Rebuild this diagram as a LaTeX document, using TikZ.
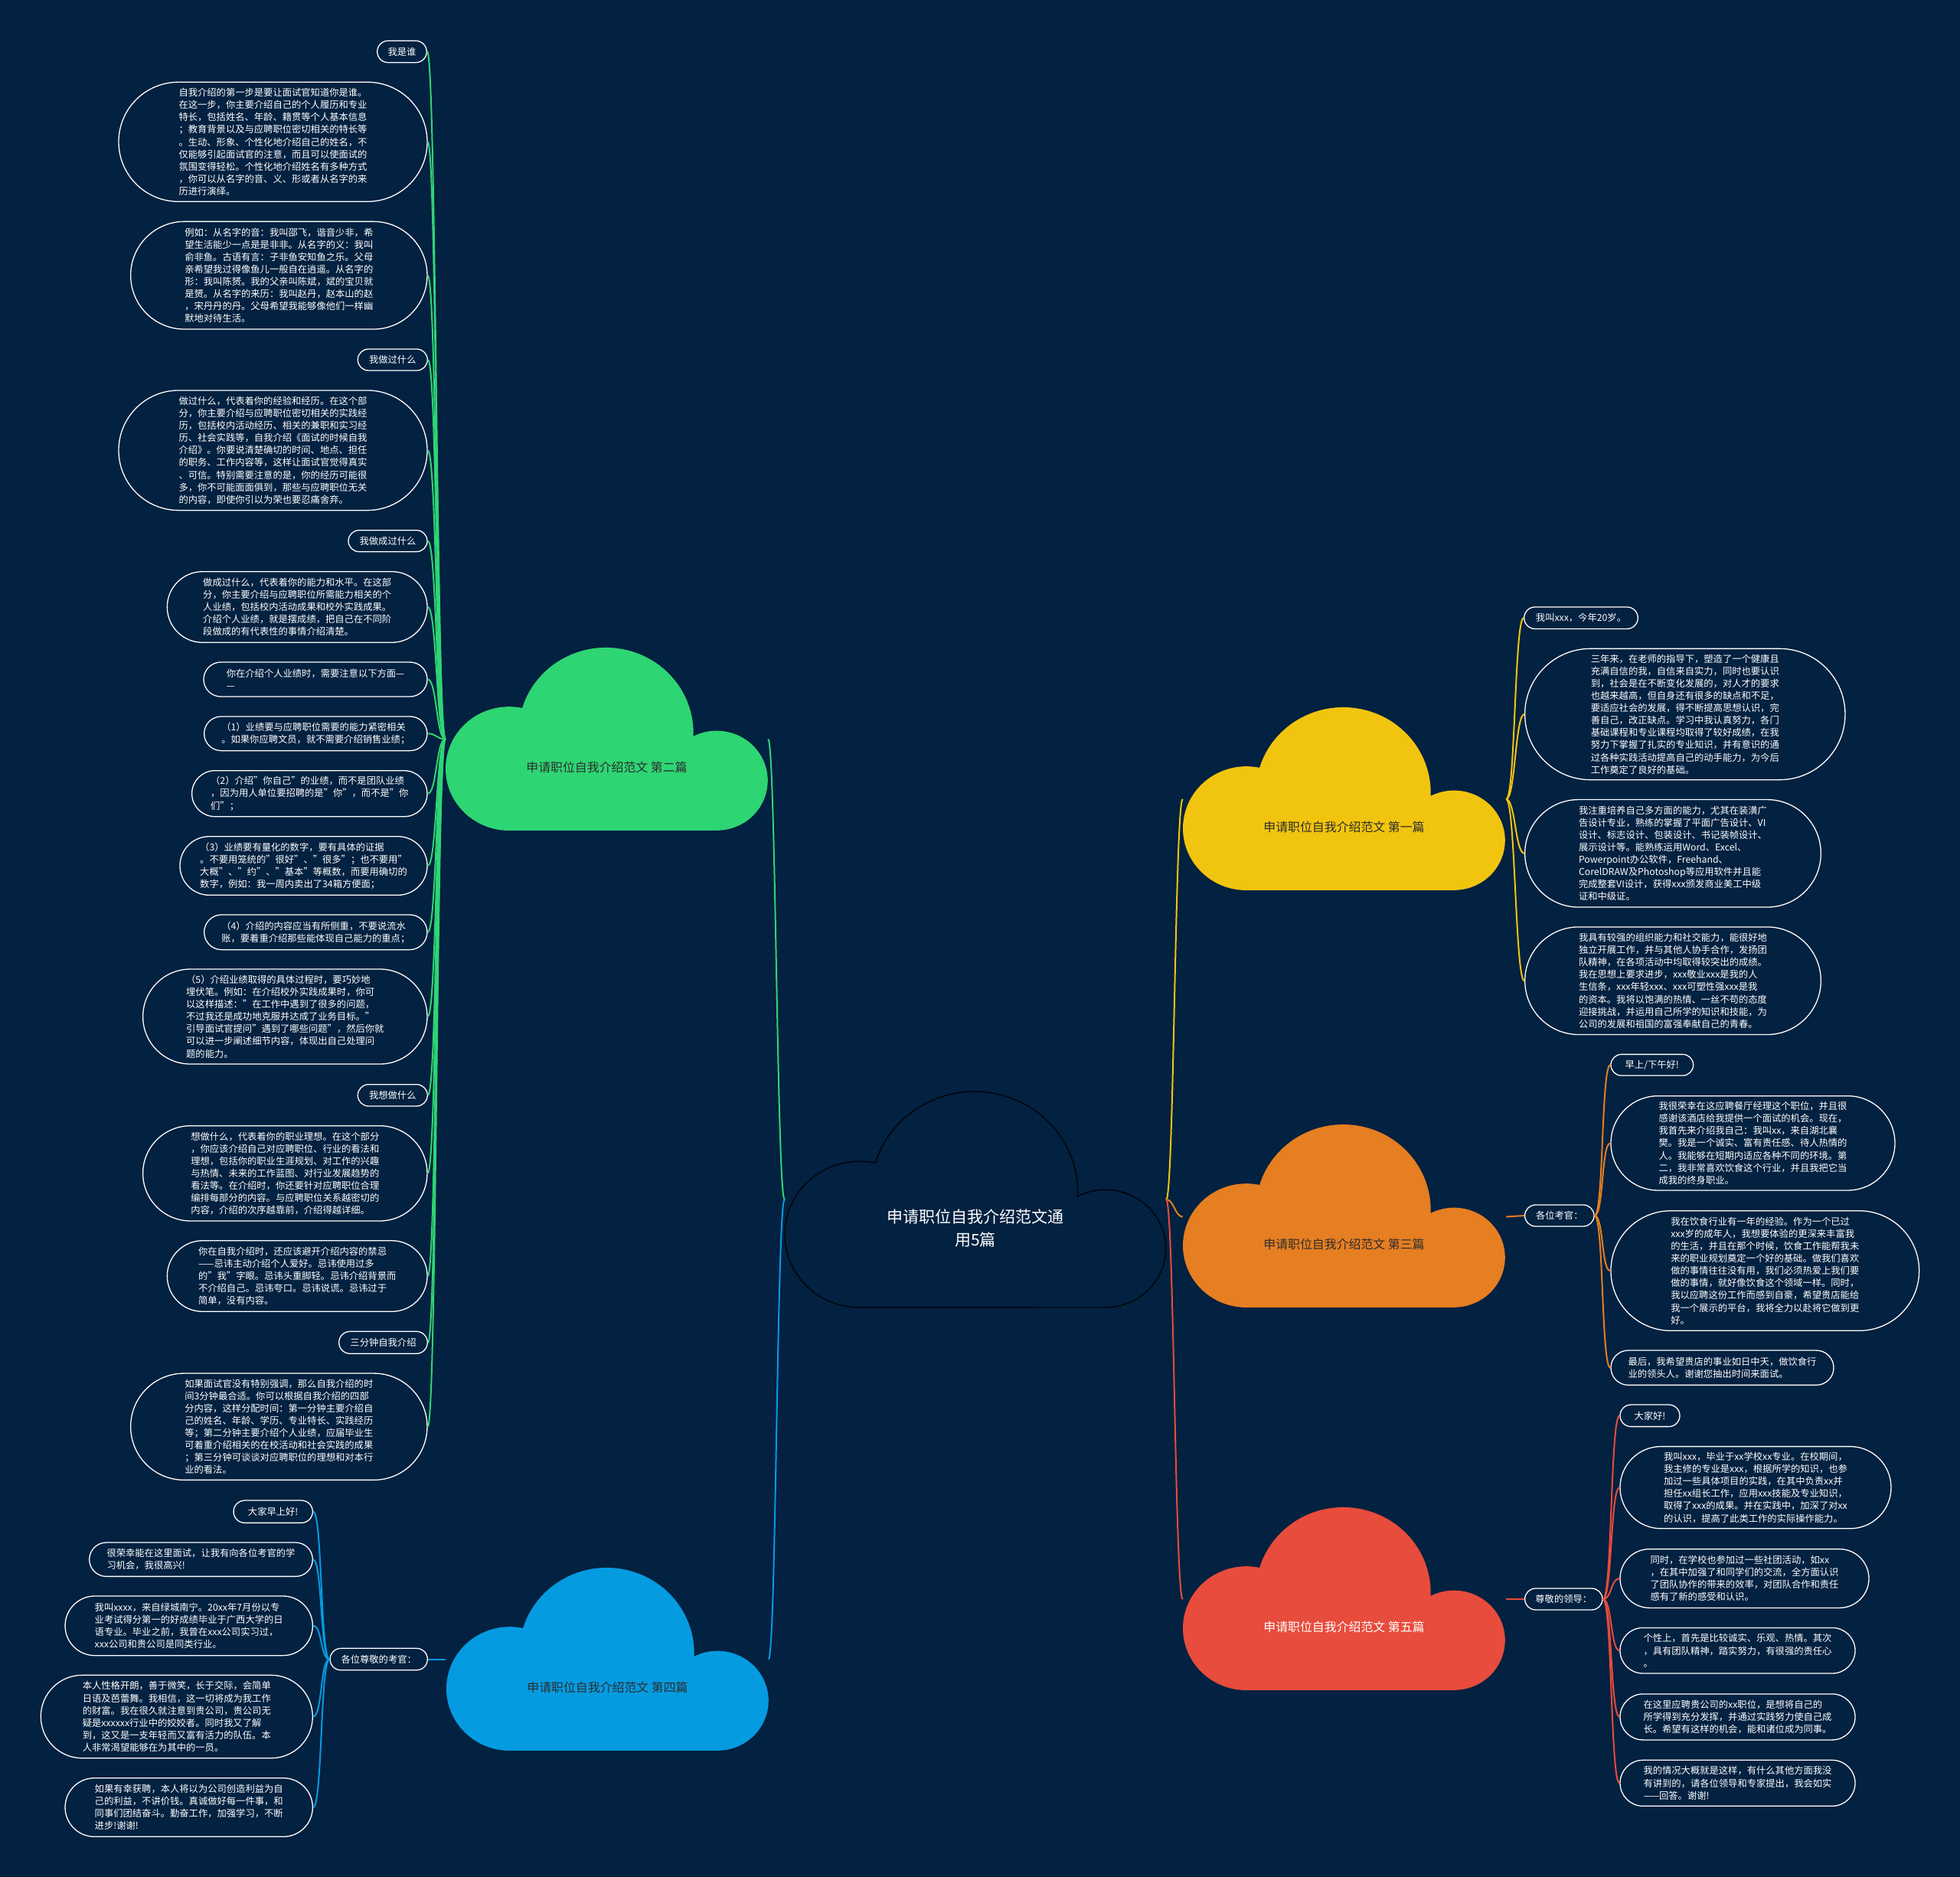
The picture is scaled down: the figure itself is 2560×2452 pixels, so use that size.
\documentclass[tikz,border=0pt]{standalone}
\usepackage{fontspec}
\setmainfont{Noto Sans CJK SC}
\definecolor{mapbg}{RGB}{3,33,64}
\definecolor{mapgreen}{RGB}{46,213,115}
\definecolor{mapyellow}{RGB}{241,196,15}
\definecolor{maporange}{RGB}{230,126,34}
\definecolor{mapred}{RGB}{231,76,60}
\definecolor{mapblue}{RGB}{5,155,225}
\definecolor{maptext}{RGB}{45,45,45}
\usetikzlibrary{calc}
% outline of one cloud, 442 x 257 units
\newcommand{\cloudpath}{(87,259) arc[start angle=90,end angle=282,radius=87]
  arc[start angle=197,end angle=362.2,radius=120]
  arc[start angle=242.8,end angle=450,radius=70] -- cycle}

\begin{document}
\begin{tikzpicture}[x=1pt,y=-1pt,
  leaf/.style 2 args={draw=white,line width=1.3,fill=mapbg,text=white,inner sep=0pt,
    align=left,font=\fontsize{12.3}{16.1}\selectfont,
    minimum width=#1,minimum height=#2,rounded corners=#2/2},
  cloudbox/.style 2 args={inner sep=0pt,minimum width=#1,minimum height=#2},
  cloudlabel/.style={inner sep=0pt,text=maptext,font=\fontsize{15.9}{19}\selectfont},
  twig/.style={line width=2}
]
  \useasboundingbox (0,0) rectangle (2560,2452);
  \fill[mapbg] (0,0) rectangle (2560,2452);

  % Clouds
  \filldraw[fill=mapbg,draw=black,line width=1.2,shift={(1025,1423.8)},xscale=1.1267,yscale=1.0973] \cloudpath;
  \fill[mapyellow,shift={(1545,922.1)},xscale=0.9525,yscale=0.93] \cloudpath;
  \fill[mapgreen,shift={(582,844.1)},xscale=0.9525,yscale=0.93] \cloudpath;
  \fill[maporange,shift={(1545,1467.1)},xscale=0.9525,yscale=0.93] \cloudpath;
  \fill[mapblue,shift={(583,2046.1)},xscale=0.9525,yscale=0.93] \cloudpath;
  \fill[mapred,shift={(1545,1967.1)},xscale=0.9525,yscale=0.93] \cloudpath;

  \node[cloudbox={498}{282}] (root) at (1274,1567) {};
  \node[cloudbox={422}{240}] (c1) at (1756,1044) {};
  \node[cloudbox={421}{239}] (c2) at (792.5,965.5) {};
  \node[cloudbox={422}{240}] (c3) at (1756,1589.5) {};
  \node[cloudbox={421}{239}] (c4) at (793,2167.5) {};
  \node[cloudbox={422}{240}] (c5) at (1756,2089) {};

  \node[inner sep=0pt,text=white,align=center,font=\fontsize{21}{30}\selectfont] (roott) at (1274,1604)
    {申请职位自我介绍范文通\\用5篇};
  \node[cloudlabel] (c1t) at (1755.5,1080.2) {申请职位自我介绍范文 第一篇};
  \node[cloudlabel] (c2t) at (792.5,1002.2) {申请职位自我介绍范文 第二篇};
  \node[cloudlabel] (c3t) at (1755.5,1625.2) {申请职位自我介绍范文 第三篇};
  \node[cloudlabel] (c4t) at (793.5,2204.2) {申请职位自我介绍范文 第四篇};
  \node[cloudlabel,text=white] (c5t) at (1755.5,2125.2) {申请职位自我介绍范文 第五篇};

  % Branch 2: green, left
  \node[leaf={64.6}{28.4}] (g1) at (525,67.5) {我是谁};
  \node[leaf={403}{156}] (g2) at (356.5,185.3) {自我介绍的第一步是要让面试官知道你是谁。\\在这一步，你主要介绍自己的个人履历和专业\\特长，包括姓名、年龄、籍贯等个人基本信息\\；教育背景以及与应聘职位密切相关的特长等\\。生动、形象、个性化地介绍自己的姓名，不\\仅能够引起面试官的注意，而且可以使面试的\\氛围变得轻松。个性化地介绍姓名有多种方式\\，你可以从名字的音、义、形或者从名字的来\\历进行演绎。};
  \node[leaf={387.3}{140.7}] (g3) at (364.3,359.7) {例如：从名字的音：我叫邵飞，谐音少非，希\\望生活能少一点是是非非。从名字的义：我叫\\俞非鱼。古语有言：子非鱼安知鱼之乐。父母\\亲希望我过得像鱼儿一般自在逍遥。从名字的\\形：我叫陈赟。我的父亲叫陈斌，斌的宝贝就\\是赟。从名字的来历：我叫赵丹，赵本山的赵\\，宋丹丹的丹。父母希望我能够像他们一样幽\\默地对待生活。};
  \node[leaf={91}{28}] (g4) at (512.8,470) {我做过什么};
  \node[leaf={403}{156.7}] (g5) at (356.5,588.3) {做过什么，代表着你的经验和经历。在这个部\\分，你主要介绍与应聘职位密切相关的实践经\\历，包括校内活动经历、相关的兼职和实习经\\历、社会实践等，自我介绍《面试的时候自我\\介绍》。你要说清楚确切的时间、地点、担任\\的职务、工作内容等，这样让面试官觉得真实\\、可信。特别需要注意的是，你的经历可能很\\多，你不可能面面俱到，那些与应聘职位无关\\的内容，即使你引以为荣也要忍痛舍弃。};
  \node[leaf={103}{28}] (g6) at (506.5,706.7) {我做成过什么};
  \node[leaf={339.7}{92.6}] (g7) at (388.2,793) {做成过什么，代表着你的能力和水平。在这部\\分，你主要介绍与应聘职位所需能力相关的个\\人业绩，包括校内活动成果和校外实践成果。\\介绍个人业绩，就是摆成绩，把自己在不同阶\\段做成的有代表性的事情介绍清楚。};
  \node[leaf={292}{45}] (g8) at (412,887.5) {你在介绍个人业绩时，需要注意以下方面—\\—};
  \node[leaf={291.3}{44.7}] (g9) at (412.3,958.3) {（1）业绩要与应聘职位需要的能力紧密相关\\。如果你应聘文员，就不需要介绍销售业绩；};
  \node[leaf={307.3}{60}] (g10) at (404.3,1036.7) {（2）介绍"你自己"的业绩，而不是团队业绩\\，因为用人单位要招聘的是"你"，而不是"你\\们"；};
  \node[leaf={323}{76.6}] (g11) at (396.5,1131) {（3）业绩要有量化的数字，要有具体的证据\\。不要用笼统的"很好"、"很多"；也不要用"\\大概"、"约"、"基本"等概数，而要用确切的\\数字，例如：我一周内卖出了34箱方便面；};
  \node[leaf={291.3}{45.7}] (g12) at (412.3,1217.8) {（4）介绍的内容应当有所侧重，不要说流水\\账，要着重介绍那些能体现自己能力的重点；};
  \node[leaf={371.3}{124}] (g13) at (372.3,1328) {（5）介绍业绩取得的具体过程时，要巧妙地\\埋伏笔。例如：在介绍校外实践成果时，你可\\以这样描述："在工作中遇到了很多的问题，\\不过我还是成功地克服并达成了业务目标。"\\引导面试官提问"遇到了哪些问题"，然后你就\\可以进一步阐述细节内容，体现出自己处理问\\题的能力。};
  \node[leaf={91}{28.3}] (g14) at (512.8,1430.8) {我想做什么};
  \node[leaf={371.3}{124.3}] (g15) at (372.3,1532.8) {想做什么，代表着你的职业理想。在这个部分\\，你应该介绍自己对应聘职位、行业的看法和\\理想，包括你的职业生涯规划、对工作的兴趣\\与热情、未来的工作蓝图、对行业发展趋势的\\看法等。在介绍时，你还要针对应聘职位合理\\编排每部分的内容。与应聘职位关系越密切的\\内容，介绍的次序越靠前，介绍得越详细。};
  \node[leaf={339.7}{92.6}] (g16) at (388.2,1667) {你在自我介绍时，还应该避开介绍内容的禁忌\\——忌讳主动介绍个人爱好。忌讳使用过多\\的"我"字眼。忌讳头重脚轻。忌讳介绍背景而\\不介绍自己。忌讳夸口。忌讳说谎。忌讳过于\\简单，没有内容。};
  \node[leaf={115.6}{29}] (g17) at (500.5,1753.8) {三分钟自我介绍};
  \node[leaf={387.3}{139.3}] (g18) at (364.3,1863.7) {如果面试官没有特别强调，那么自我介绍的时\\间3分钟最合适。你可以根据自我介绍的四部\\分内容，这样分配时间：第一分钟主要介绍自\\己的姓名、年龄、学历、专业特长、实践经历\\等；第二分钟主要介绍个人业绩，应届毕业生\\可着重介绍相关的在校活动和社会实践的成果\\；第三分钟可谈谈对应聘职位的理想和对本行\\业的看法。};

  % Branch 4: blue, left
  \node[leaf={127.3}{28.4}] (bh) at (494.7,2167.5) {各位尊敬的考官：};
  \node[leaf={103.3}{29.3}] (b1) at (356.7,1974.7) {大家早上好!};
  \node[leaf={291.6}{44.3}] (b2) at (262.5,2037.2) {很荣幸能在这里面试，让我有向各位考官的学\\习机会，我很高兴!};
  \node[leaf={323.3}{77.7}] (b3) at (246.7,2123.8) {我叫xxxx，来自绿城南宁。20xx年7月份以专\\业考试得分第一的好成绩毕业于广西大学的日\\语专业。毕业之前，我曾在xxx公司实习过，\\xxx公司和贵公司是同类行业。};
  \node[leaf={355}{108.4}] (b4) at (230.8,2242.5) {本人性格开朗，善于微笑，长于交际，会简单\\日语及芭蕾舞。我相信，这一切将成为我工作\\的财富。我在很久就注意到贵公司，贵公司无\\疑是xxxxxx行业中的姣姣者。同时我又了解\\到，这又是一支年轻而又富有活力的队伍。本\\人非常渴望能够在为其中的一员。};
  \node[leaf={323.3}{76.6}] (b5) at (246.7,2361) {如果有幸获聘，本人将以为公司创造利益为自\\己的利益，不讲价钱。真诚做好每一件事，和\\同事们团结奋斗。勤奋工作，加强学习，不断\\进步!谢谢!};

  % Branch 1: yellow, right
  \node[leaf={148.6}{28.5}] (y1) at (2065,807.2) {我叫xxx，今年20岁。};
  \node[leaf={418.3}{171.3}] (y2) at (2200.8,933) {三年来，在老师的指导下，塑造了一个健康且\\充满自信的我，自信来自实力，同时也要认识\\到，社会是在不断变化发展的，对人才的要求\\也越来越高，但自身还有很多的缺点和不足，\\要适应社会的发展，得不断提高思想认识，完\\善自己，改正缺点。学习中我认真努力，各门\\基础课程和专业课程均取得了较好成绩，在我\\努力下掌握了扎实的专业知识，并有意识的通\\过各种实践活动提高自己的动手能力，为今后\\工作奠定了良好的基础。};
  \node[leaf={386.6}{140.5}] (y3) at (2185,1114.8) {我注重培养自己多方面的能力，尤其在装潢广\\告设计专业，熟练的掌握了平面广告设计、VI\\设计、标志设计、包装设计、书记装帧设计、\\展示设计等。能熟练运用Word、Excel、\\Powerpoint办公软件，Freehand、\\CorelDRAW及Photoshop等应用软件并且能\\完成整套VI设计，获得xxx颁发商业美工中级\\证和中级证。};
  \node[leaf={386.6}{140.6}] (y4) at (2185,1281.2) {我具有较强的组织能力和社交能力，能很好地\\独立开展工作，并与其他人协手合作，发扬团\\队精神，在各项活动中均取得较突出的成绩。\\我在思想上要求进步，xxx敬业xxx是我的人\\生信条，xxx年轻xxx、xxx可塑性强xxx是我\\的资本。我将以饱满的热情、一丝不苟的态度\\迎接挑战，并运用自己所学的知识和技能，为\\公司的发展和祖国的富强奉献自己的青春。};

  % Branch 3: orange, right
  \node[leaf={90.4}{28}] (oh) at (2036.8,1588) {各位考官：};
  \node[leaf={107.7}{27.7}] (o1) at (2157.8,1391.2) {早上/下午好!};
  \node[leaf={371}{123.3}] (o2) at (2289.5,1493.3) {我很荣幸在这应聘餐厅经理这个职位，并且很\\感谢该酒店给我提供一个面试的机会。现在，\\我首先来介绍我自己：我叫xx，来自湖北襄\\樊。我是一个诚实、富有责任感、待人热情的\\人。我能够在短期内适应各种不同的环境。第\\二，我非常喜欢饮食这个行业，并且我把它当\\成我的终身职业。};
  \node[leaf={402.7}{156.6}] (o3) at (2305.3,1660) {我在饮食行业有一年的经验。作为一个已过\\xxx岁的成年人，我想要体验的更深来丰富我\\的生活，并且在那个时候，饮食工作能帮我未\\来的职业规划奠定一个好的基础。做我们喜欢\\做的事情往往没有用，我们必须热爱上我们要\\做的事情，就好像饮食这个领域一样。同时，\\我以应聘这份工作而感到自豪，希望贵店能给\\我一个展示的平台，我将全力以赴将它做到更\\好。};
  \node[leaf={291}{45.3}] (o4) at (2249.5,1786.7) {最后，我希望贵店的事业如日中天，做饮食行\\业的领头人。谢谢您抽出时间来面试。};

  % Branch 5: red, right
  \node[leaf={101.4}{28}] (rh) at (2042.3,2089) {尊敬的领导：};
  \node[leaf={78}{28.6}] (r1) at (2155,1849.3) {大家好!};
  \node[leaf={354}{107.2}] (r2) at (2293,1943.2) {我叫xxx，毕业于xx学校xx专业。在校期间，\\我主修的专业是xxx，根据所学的知识，也参\\加过一些具体项目的实践，在其中负责xx并\\担任xx组长工作，应用xxx技能及专业知识，\\取得了xxx的成果。并在实践中，加深了对xx\\的认识，提高了此类工作的实际操作能力。};
  \node[leaf={325}{76.8}] (r3) at (2278.5,2062) {同时，在学校也参加过一些社团活动，如xx\\，在其中加强了和同学们的交流，全方面认识\\了团队协作的带来的效率，对团队合作和责任\\感有了新的感受和认识。};
  \node[leaf={307}{59.6}] (r4) at (2269.5,2156.2) {个性上，首先是比较诚实、乐观、热情。其次\\，具有团队精神，踏实努力，有很强的责任心\\。};
  \node[leaf={307}{60}] (r5) at (2269.5,2242.9) {在这里应聘贵公司的xx职位，是想将自己的\\所学得到充分发挥，并通过实践努力使自己成\\长。希望有这样的机会，能和诸位成为同事。};
  \node[leaf={307}{60}] (r6) at (2269.5,2329.3) {我的情况大概就是这样，有什么其他方面我没\\有讲到的，请各位领导和专家提出，我会如实\\——回答。谢谢!};

  % Connectors
  \draw[twig,mapgreen] (root.west) .. controls +(-10,0) and +(10,0) .. (c2.east);
  \draw[twig,mapblue] (root.west) .. controls +(-10,0) and +(10,0) .. (c4.east);
  \draw[twig,mapyellow] (root.east) .. controls +(10,0) and +(-10,0) .. (c1.west);
  \draw[twig,maporange] (root.east) .. controls +(10,0) and +(-10,0) .. (c3.west);
  \draw[twig,mapred] (root.east) .. controls +(10,0) and +(-10,0) .. (c5.west);
  \foreach \i in {1,...,18}
    \draw[twig,mapgreen] (c2.west) .. controls +(-12,0) and +(12,0) .. (g\i.east);
  \draw[twig,mapblue] (c4.west) -- (bh.east);
  \foreach \i in {1,...,5}
    \draw[twig,mapblue] (bh.west) .. controls +(-12,0) and +(12,0) .. (b\i.east);
  \foreach \i in {1,...,4}
    \draw[twig,mapyellow] (c1.east) .. controls +(12,0) and +(-12,0) .. (y\i.west);
  \draw[twig,maporange] (c3.east) -- (oh.west);
  \foreach \i in {1,...,4}
    \draw[twig,maporange] (oh.east) .. controls +(12,0) and +(-12,0) .. (o\i.west);
  \draw[twig,mapred] (c5.east) -- (rh.west);
  \foreach \i in {1,...,6}
    \draw[twig,mapred] (rh.east) .. controls +(12,0) and +(-12,0) .. (r\i.west);
\end{tikzpicture}
\end{document}
